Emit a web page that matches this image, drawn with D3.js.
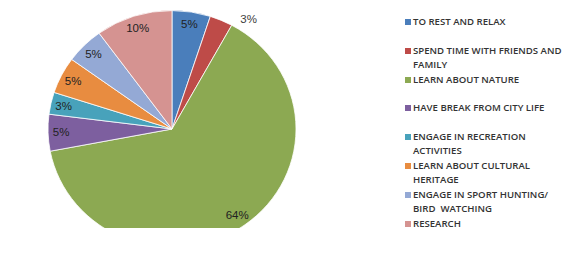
<!DOCTYPE html>
<meta charset="utf-8">
<script src="https://d3js.org/d3.v7.min.js"></script>
<style>
  body { margin: 0; background: #fff; }
</style>
<div id="chart"></div>
<script>
// reasons for visiting, share of respondents (%)
var categories = ["TO REST AND RELAX", "SPEND TIME WITH FRIENDS AND FAMILY", "LEARN ABOUT NATURE",
  "HAVE BREAK FROM CITY LIFE", "ENGAGE IN RECREATION ACTIVITIES", "LEARN ABOUT CULTURAL HERITAGE",
  "ENGAGE IN SPORT HUNTING/ BIRD  WATCHING", "RESEARCH"];
var values = [5, 3, 64, 5, 3, 5, 5, 10];
// legend lines as wrapped in the original
var legendLines = [["TO REST AND RELAX"], ["SPEND TIME WITH FRIENDS AND", "FAMILY"], ["LEARN ABOUT NATURE"],
  ["HAVE BREAK FROM CITY LIFE"], ["ENGAGE IN RECREATION", "ACTIVITIES"], ["LEARN ABOUT CULTURAL", "HERITAGE"],
  ["ENGAGE IN SPORT HUNTING/", "BIRD  WATCHING"], ["RESEARCH"]];
var colors = ["#4A7EBB", "#BE4B48", "#8CA952", "#7D5F9F", "#48A2BB", "#E88C40", "#94A9D5", "#D59391"];

var width = 583, height = 253;
var cx = 172, cy = 129, radius = 124;
var squash = 0.955; // the original pie is slightly flattened

var svg = d3.select("#chart").append("svg")
  .attr("width", width)
  .attr("height", height);

// the plot area cuts the pie off at the bottom
svg.append("clipPath").attr("id", "plotclip")
  .append("rect").attr("x", 0).attr("y", 0).attr("width", 390).attr("height", 228);

var g = svg.append("g")
  .attr("clip-path", "url(#plotclip)")
  .append("g")
  .attr("transform", "translate(" + cx + "," + cy + ")");

var pie = d3.pie().sort(null).value(d => d);
var arcs = pie(values);
var arc = d3.arc().innerRadius(0).outerRadius(radius);

g.append("g")
  .attr("transform", "scale(1," + squash + ")")
  .selectAll("path")
  .data(arcs)
  .enter().append("path")
  .attr("d", arc)
  .attr("fill", (d, i) => colors[i])
  .attr("stroke", "#fff")
  .attr("stroke-width", 0.8);

// percentage labels, small red slice label sits outside
var labelArc = d3.arc().innerRadius(111).outerRadius(111);
var outArc = d3.arc().innerRadius(138).outerRadius(138);

g.selectAll("text.pct")
  .data(arcs)
  .enter().append("text")
  .attr("class", "pct")
  .attr("transform", (d, i) => {
    var c = i === 1 ? outArc.centroid({startAngle: d.startAngle + 0.18, endAngle: d.endAngle + 0.18}) : labelArc.centroid(d);
    return "translate(" + c[0] + "," + (c[1] * squash) + ")";
  })
  .attr("text-anchor", "middle")
  .attr("dy", "0.35em")
  .style("font-family", "'Liberation Sans', Arial, sans-serif")
  .style("font-size", "11.5px")
  .style("fill", (d, i) => i === 1 ? "#404040" : "#222")
  .text(d => d.data + "%");

// legend
var legendTops = [22, 51, 80, 108, 137, 166, 195, 224];
var legend = svg.append("g");
legendLines.forEach(function(lines, i) {
  legend.append("rect")
    .attr("x", 405)
    .attr("y", legendTops[i] - 3)
    .attr("width", 6)
    .attr("height", 6)
    .attr("fill", colors[i]);
  lines.forEach(function(line, j) {
    legend.append("text")
      .attr("x", 413)
      .attr("y", legendTops[i] + j * 14)
      .attr("dy", "0.35em")
      .style("font-family", "'Open Sans', sans-serif")
      .style("font-size", "9.6px")
      .style("font-weight", "600")
      .style("fill", "#333")
      .style("white-space", "pre")
      .text(line);
  });
});
</script>
